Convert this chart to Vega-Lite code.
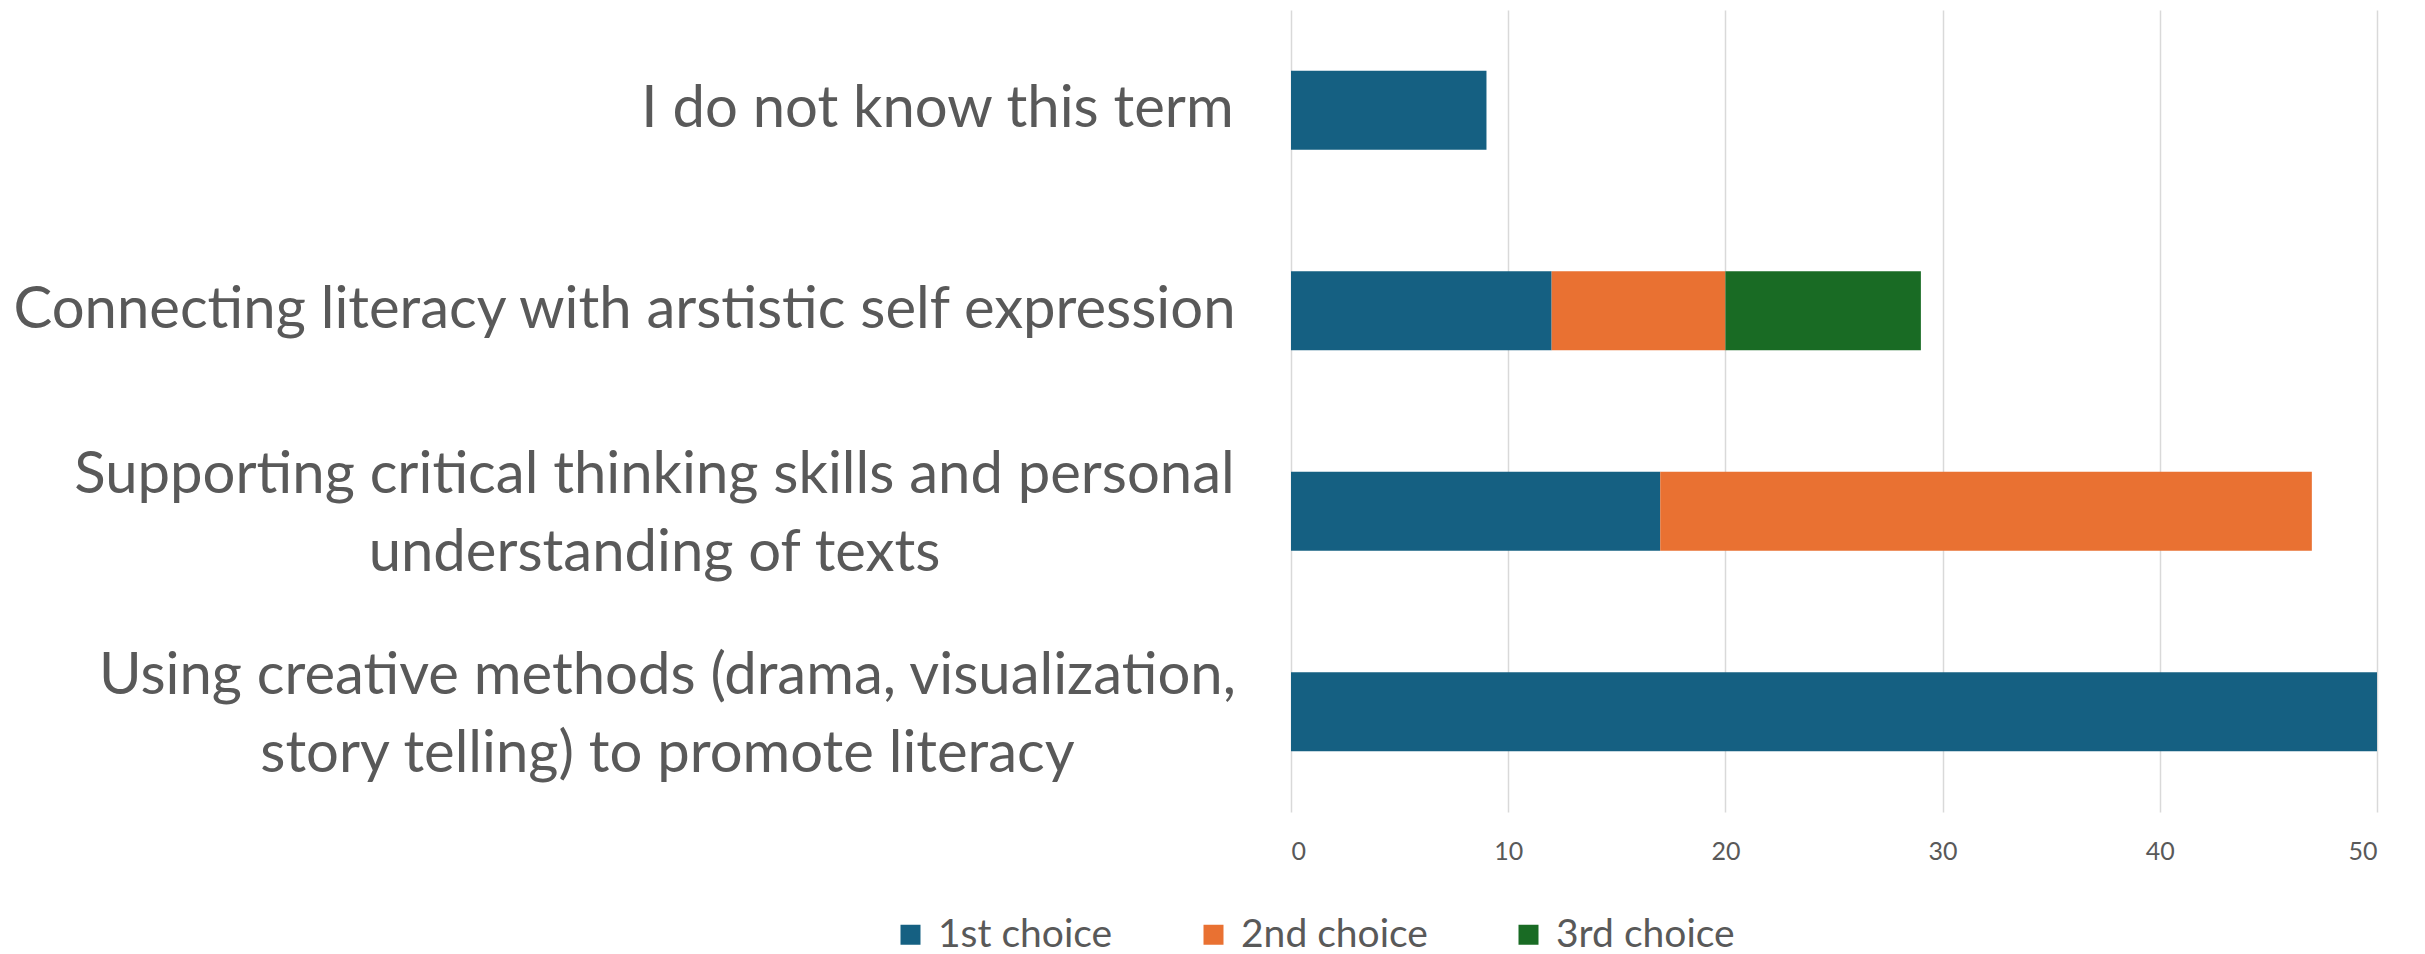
{
  "$schema": "https://vega.github.io/schema/vega-lite/v6.json",
  "autosize": {"type": "none"},
  "width": 1086,
  "height": 802,
  "padding": {"left": 1291, "top": 10, "right": 48, "bottom": 142},
  "background": "white",
  "config": {"view": {"stroke": null}, "font": "Lato"},
  "data": {
    "values": [
      {"item": "I do not know this term", "choice": "1st choice", "rank": 1, "count": 9},
      {"item": "Connecting literacy with arstistic self expression", "choice": "1st choice", "rank": 1, "count": 12},
      {"item": "Connecting literacy with arstistic self expression", "choice": "2nd choice", "rank": 2, "count": 8},
      {"item": "Connecting literacy with arstistic self expression", "choice": "3rd choice", "rank": 3, "count": 9},
      {"item": "Supporting critical thinking skills and personal|understanding of texts", "choice": "1st choice", "rank": 1, "count": 17},
      {"item": "Supporting critical thinking skills and personal|understanding of texts", "choice": "2nd choice", "rank": 2, "count": 30},
      {"item": "Using creative methods (drama, visualization,|story telling) to promote literacy", "choice": "1st choice", "rank": 1, "count": 50}
    ]
  },
  "mark": {"type": "bar"},
  "encoding": {
    "y": {
      "field": "item",
      "type": "nominal",
      "sort": null,
      "scale": {"paddingInner": 0.607, "paddingOuter": 0.3035},
      "axis": {
        "title": null,
        "domain": false,
        "ticks": false,
        "labelExpr": "split(datum.label, '|')",
        "labelFont": "Lato",
        "labelFontSize": 58,
        "labelColor": "#595959",
        "labelLineHeight": 78,
        "labelLimit": 2000,
        "labelAlign": "center",
        "labelBaseline": "middle",
        "labelOffset": {
          "condition": {"test": "indexof(datum.value, '|') >= 0", "value": -35},
          "value": 0
        },
        "labelPadding": {
          "condition": [
            {"test": "datum.value == 'I do not know this term'", "value": 354},
            {"test": "indexof(datum.value, 'Connecting') == 0", "value": 667},
            {"test": "indexof(datum.value, 'Supporting') == 0", "value": 637}
          ],
          "value": 624
        }
      }
    },
    "x": {
      "field": "count",
      "type": "quantitative",
      "stack": "zero",
      "scale": {"domain": [0, 50], "nice": false},
      "axis": {
        "title": null,
        "values": [0, 10, 20, 30, 40, 50],
        "domain": false,
        "ticks": false,
        "grid": true,
        "gridColor": "#d9d9d9",
        "gridWidth": 1.5,
        "labelFont": "Lato",
        "labelFontSize": 25,
        "labelColor": "#595959",
        "labelPadding": 27
      }
    },
    "color": {
      "field": "choice",
      "type": "nominal",
      "scale": {"domain": ["1st choice", "2nd choice", "3rd choice"], "range": ["#156082", "#E97132", "#196B24"]},
      "legend": {
        "title": null,
        "orient": "none",
        "direction": "horizontal",
        "legendX": -400,
        "legendY": 905,
        "symbolType": "square",
        "symbolSize": 400,
        "symbolStrokeWidth": 0,
        "labelFont": "Lato",
        "labelFontSize": 39,
        "labelLimit": 500,
        "labelColor": "#595959",
        "labelOffset": 8,
        "columnPadding": 81
      }
    },
    "order": {"field": "rank", "type": "quantitative", "sort": "ascending"}
  }
}
